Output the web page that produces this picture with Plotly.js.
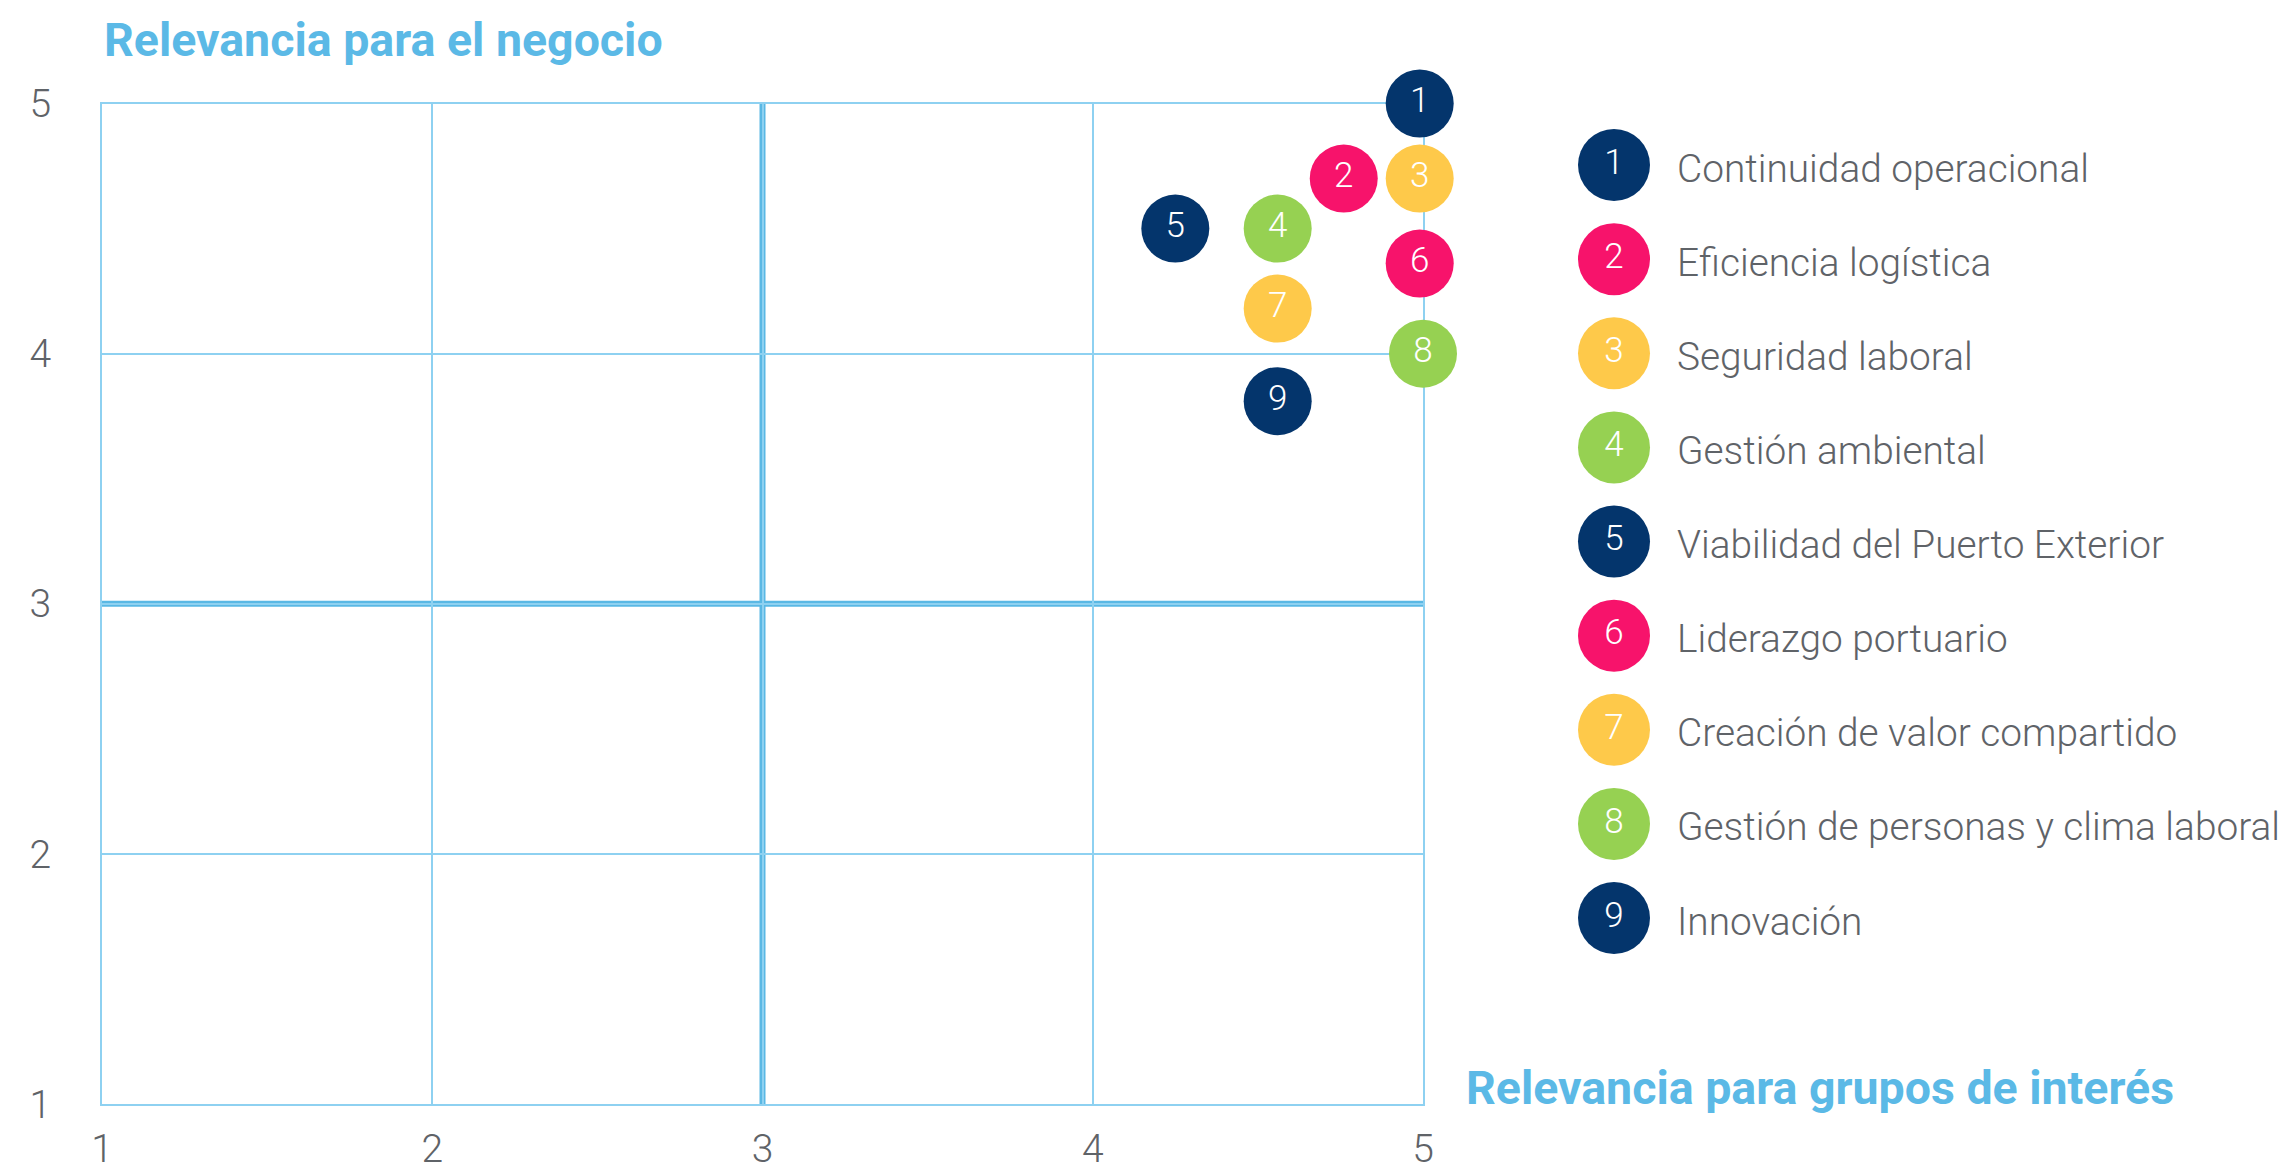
<!DOCTYPE html>
<html>
<head>
<meta charset="utf-8">
<script src="https://cdn.plot.ly/plotly-3.0.1.min.js"></script>
<style>html,body{margin:0;padding:0;background:#fff;}#chart{width:2288px;height:1173px;}</style>
</head>
<body>
<div id="chart"></div>
<script>
// ---- data ----
const ids = ['1','2','3','4','5','6','7','8','9'];
const labels = [
  'Continuidad operacional',
  'Eficiencia logística',
  'Seguridad laboral',
  'Gestión ambiental',
  'Viabilidad del Puerto Exterior',
  'Liderazgo portuario',
  'Creación de valor compartido',
  'Gestión de personas y clima laboral',
  'Innovación'
];
// x: Relevancia para grupos de interés, y: Relevancia para el negocio
const relevanciaGrupos = [4.99, 4.76, 4.99, 4.56, 4.25, 4.99, 4.56, 5.00, 4.56];
const relevanciaNegocio = [5.00, 4.70, 4.70, 4.50, 4.50, 4.36, 4.18, 4.00, 3.81];
const colors = ['#04356c','#f7136b','#fec94a','#96d152','#04356c','#f7136b','#fec94a','#96d152','#04356c'];
const tickVals = [1, 2, 3, 4, 5];
const tickText = ['1', '2', '3', '4', '5'];
const midValue = 3;
const axisMin = 1, axisMax = 5;
const xTitle = 'Relevancia para grupos de interés';
const yTitle = 'Relevancia para el negocio';

// ---- styling ----
const W = 2288, H = 1173;
const gridColor = '#8ed1f1';
const midColor = '#5ab8e4';
const titleColor = '#5bb9e6';
const textGray = '#5f6368';
const lightFont = {family: 'Roboto, "Open Sans", sans-serif', size: 39, color: textGray, weight: 300};
const legendFont = {family: 'Roboto, "Open Sans", sans-serif', size: 38.8, color: textGray, weight: 300};

const legendIdx = ids.map((d, i) => i + 1);
const legendMarkerX = ids.map(() => 1614);

const traces = [
  {
    type: 'scatter', mode: 'markers+text',
    x: relevanciaGrupos, y: relevanciaNegocio,
    text: ids, textposition: 'middle center',
    textfont: {family: 'Roboto, sans-serif', size: 35, color: '#ffffff', weight: 300},
    marker: {size: 68, color: colors, line: {width: 0}},
    cliponaxis: false, hoverinfo: 'skip', showlegend: false,
    xaxis: 'x', yaxis: 'y'
  },
  {
    type: 'scatter', mode: 'markers+text',
    x: legendMarkerX, y: legendIdx,
    text: ids, textposition: 'middle center',
    textfont: {family: 'Roboto, sans-serif', size: 35, color: '#ffffff', weight: 300},
    marker: {size: 72, color: colors, line: {width: 0}},
    cliponaxis: false, hoverinfo: 'skip', showlegend: false,
    xaxis: 'x2', yaxis: 'y2'
  }
];

const annotations = labels.map((t, i) => ({
  xref: 'x2', yref: 'y2', x: 1675, y: legendIdx[i], yshift: -3,
  text: t, showarrow: false, xanchor: 'left', yanchor: 'middle',
  font: legendFont
}));
annotations.push({
  xref: 'paper', yref: 'paper', x: 102 / W, y: 1 - 40 / H,
  text: yTitle, showarrow: false, xanchor: 'left', yanchor: 'middle',
  font: {family: 'Roboto, sans-serif', size: 46.5, color: titleColor, weight: 700}
});
annotations.push({
  xref: 'paper', yref: 'paper', x: 1464 / W, y: 1 - 1088 / H,
  text: xTitle, showarrow: false, xanchor: 'left', yanchor: 'middle',
  font: {family: 'Roboto, sans-serif', size: 46.5, color: titleColor, weight: 700}
});

const layout = {
  width: W, height: H,
  margin: {l: 0, r: 0, t: 0, b: 0, pad: 0},
  paper_bgcolor: '#ffffff', plot_bgcolor: 'rgba(0,0,0,0)',
  showlegend: false,
  xaxis: {
    domain: [102 / W, 1423 / W], range: [axisMin, axisMax],
    tickvals: tickVals, ticktext: tickText, ticks: '',
    ticklabelstandoff: 9, layer: 'below traces',
    showgrid: true, gridcolor: gridColor, gridwidth: 2,
    showline: true, mirror: true, linecolor: gridColor, linewidth: 2,
    zeroline: false, tickfont: lightFont, fixedrange: true
  },
  yaxis: {
    domain: [1 - 1104 / H, 1 - 103.5 / H], range: [axisMin, axisMax],
    tickvals: tickVals, ticktext: tickText, ticks: '',
    ticklabelstandoff: 41, layer: 'below traces',
    showgrid: true, gridcolor: gridColor, gridwidth: 2,
    showline: true, mirror: true, linecolor: gridColor, linewidth: 2,
    zeroline: false, tickfont: lightFont, fixedrange: true
  },
  xaxis2: {domain: [1510 / W, 1], range: [1510, W], visible: false, fixedrange: true},
  yaxis2: {domain: [0, 1], range: [1 + (H - 165) / 94.125, 1 - 165 / 94.125], visible: false, fixedrange: true},
  shapes: [
    {type: 'line', xref: 'x', yref: 'y', x0: midValue, x1: midValue, y0: axisMin, y1: axisMax,
     line: {color: midColor, width: 6}, layer: 'below'},
    {type: 'line', xref: 'x', yref: 'y', x0: axisMin, x1: axisMax, y0: midValue, y1: midValue,
     line: {color: midColor, width: 6}, layer: 'below'}
  ],
  annotations: annotations
};

Plotly.newPlot('chart', traces, layout, {displayModeBar: false, staticPlot: true});
</script>
</body>
</html>
